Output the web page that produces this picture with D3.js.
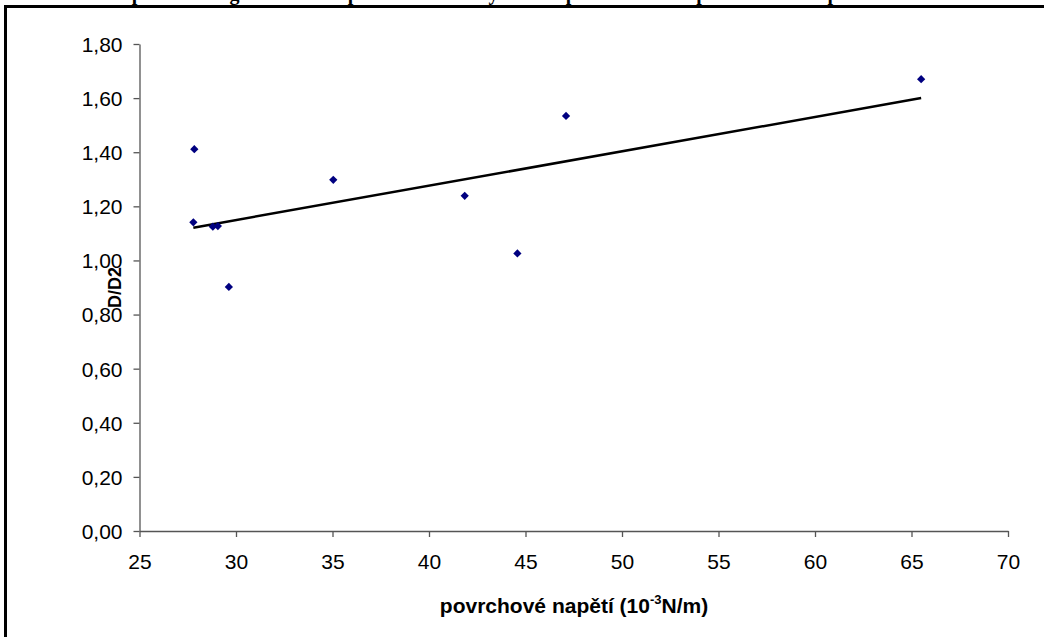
<!DOCTYPE html>
<html>
<head>
<meta charset="utf-8">
<script src="https://cdn.jsdelivr.net/npm/d3@7"></script>
<style>
  html, body { margin: 0; padding: 0; background: #fff; }
  svg { display: block; }
</style>
</head>
<body>
<svg id="chart" width="1044" height="637"></svg>
<script>
// data
let tension = [27.84, 27.79, 28.80, 29.06, 29.63, 35.04, 41.85, 44.58, 47.10, 65.5];
let ratio   = [1.411, 1.141, 1.125, 1.127, 0.902, 1.298, 1.239, 1.026, 1.534, 1.670];
let xTicks = [25, 30, 35, 40, 45, 50, 55, 60, 65, 70];
let yTicks = [0, 0.2, 0.4, 0.6, 0.8, 1.0, 1.2, 1.4, 1.6, 1.8];

// the title sits almost entirely above the picture, only descenders show
let titleText = "Závislost poměru na gelaci a tlaku pro různé tenzidy a vodu při měnícím se povrchovém napětí";
let xTitle = "povrchové napětí (10";
let yTitle = "D/D2";

/**
 * plot area, set to match the reference frame
 */
let margin = { top: 44, right: 36, bottom: 106, left: 139.5 },
    width = 1044 - margin.left - margin.right,
    height = 637 - margin.top - margin.bottom;

let svg = d3.select("#chart");

// outer frame of the chart (left and top edges are the only ones visible)
svg.append("line").attr("x1", 5.5).attr("x2", 5.5).attr("y1", 5).attr("y2", 637)
    .attr("stroke", "#000").attr("stroke-width", 3);
svg.append("line").attr("x1", 4).attr("x2", 1044).attr("y1", 6.5).attr("y2", 6.5)
    .attr("stroke", "#000").attr("stroke-width", 3);

svg.append("text")
    .attr("x", 50).attr("y", 0)
    .style("font-family", "'Liberation Serif', 'Times New Roman', serif")
    .style("font-weight", "bold")
    .style("font-size", "20px")
    .text(titleText);

let chart = svg.append("g")
    .attr("transform", "translate(" + margin.left + "," + margin.top + ")");

let x = d3.scaleLinear().domain([25, 70]).range([0, width]);
let y = d3.scaleLinear().domain([0, 1.8]).range([height, 0]);

let fmt = d => d3.format(".2f")(d).replace(".", ",");

let xAxis = d3.axisBottom(x).tickValues(xTicks).tickSize(6).tickSizeOuter(0).tickPadding(12),
    yAxis = d3.axisLeft(y).tickValues(yTicks).tickSize(6).tickSizeOuter(0).tickPadding(11).tickFormat(fmt);

let gx = chart.append("g")
    .attr("transform", "translate(0," + height + ")")
    .call(xAxis);
let gy = chart.append("g").call(yAxis);

[gx, gy].forEach(g => {
    g.selectAll("path, line").attr("stroke", "#555").attr("stroke-width", 1.3);
    g.selectAll("text")
        .attr("fill", "#000")
        .style("font-family", "'Liberation Sans', Arial, sans-serif")
        .style("font-size", "21px");
});
gx.selectAll("text").attr("dy", "0.95em");
gy.selectAll("text").attr("dy", "0.35em");

// trendline (least squares through the points)
let mx = d3.mean(tension), my = d3.mean(ratio);
let sxy = d3.sum(tension, (t, i) => (t - mx) * (ratio[i] - my));
let sxx = d3.sum(tension, t => (t - mx) * (t - mx));
let slope = sxy / sxx, icpt = my - slope * mx;
let xMin = d3.min(tension), xMax = d3.max(tension);

chart.append("line")
    .attr("x1", x(xMin)).attr("y1", y(icpt + slope * xMin))
    .attr("x2", x(xMax)).attr("y2", y(icpt + slope * xMax))
    .attr("stroke", "#000").attr("stroke-width", 2.5);

// diamond markers
let diamond = d3.symbol().type(d3.symbolSquare).size(34);
chart.selectAll(".pt")
    .data(tension.map((t, i) => ({ t: t, r: ratio[i] })))
    .enter().append("path")
    .attr("class", "pt")
    .attr("d", diamond)
    .attr("fill", "#000080")
    .attr("transform", d => "translate(" + x(d.t) + "," + y(d.r) + ") rotate(45)");

// axis titles
let xt = svg.append("text")
    .attr("x", 574)
    .attr("y", 613)
    .attr("text-anchor", "middle")
    .style("font-family", "'Liberation Sans', Arial, sans-serif")
    .style("font-weight", "bold")
    .style("font-size", "21px");
xt.append("tspan").text(xTitle);
xt.append("tspan").attr("dy", -9).style("font-size", "13px").text("-3");
xt.append("tspan").attr("dy", 9).text("N/m)");

svg.append("text")
    .attr("transform", "translate(121," + (margin.top + height / 2) + ") rotate(-90)")
    .attr("text-anchor", "middle")
    .style("font-family", "'Liberation Sans', Arial, sans-serif")
    .style("font-weight", "bold")
    .style("font-size", "18px")
    .text(yTitle);
</script>
</body>
</html>
